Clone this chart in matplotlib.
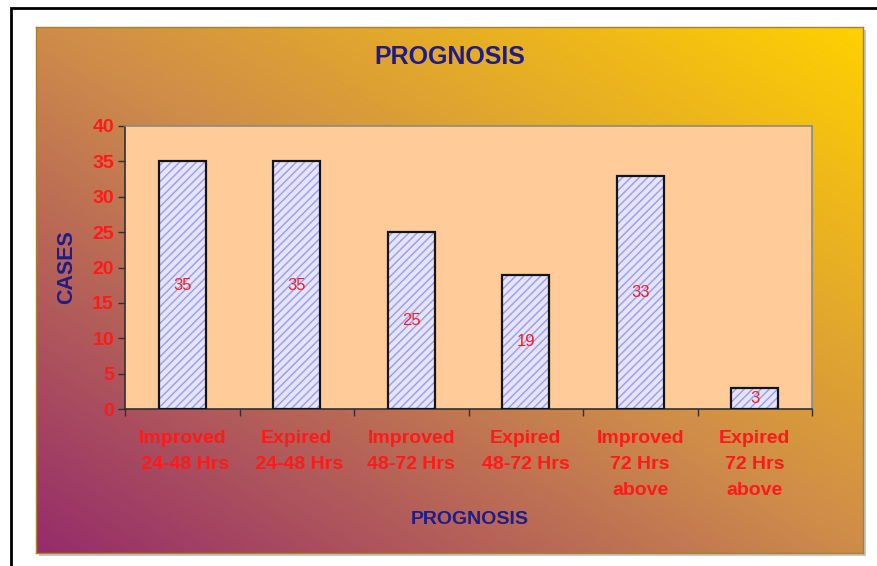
import numpy as np
import matplotlib
matplotlib.use("Agg")
import matplotlib.pyplot as plt
from matplotlib.colors import LinearSegmentedColormap
from matplotlib.patches import Rectangle

plt.rcParams["font.family"] = ["Liberation Sans", "DejaVu Sans"]

# Prognosis counts per outcome / admission window
categories = [
    "Improved\n 24-48 Hrs",
    "Expired\n 24-48 Hrs",
    "Improved\n48-72 Hrs",
    "Expired\n48-72 Hrs",
    "Improved\n72 Hrs\nabove",
    "Expired\n72 Hrs\nabove",
]
cases = [35, 35, 25, 19, 33, 3]
y_ticks = [0, 5, 10, 15, 20, 25, 30, 35, 40]

W, H = 877, 566
RED = "#FF1A1A"
NAVY = "#1C1C8A"


def fig_box(x0, y0, x1, y1):
    # pixel box (top-left origin) -> figure fraction rect
    return [x0 / W, (H - y1) / H, (x1 - x0) / W, (y1 - y0) / H]


fig = plt.figure(figsize=(W / 100, H / 100), dpi=100, facecolor="white")

# outer frame
fig.patches.append(Rectangle((11 / W, -0.1), 1.2, (H - 8) / H + 0.1, transform=fig.transFigure,
                             fill=False, edgecolor="black", linewidth=2))

# chart area with diagonal gradient (purple bottom-left -> yellow top-right)
shadow = fig.add_axes(fig_box(39, 30, 866, 556))
shadow.set_facecolor("#c8c8c8")
shadow.set_xticks([])
shadow.set_yticks([])
for s in shadow.spines.values():
    s.set_visible(False)

bg = fig.add_axes(fig_box(36, 27, 863, 553))
gx, gy = np.meshgrid(np.linspace(0, 1, 400), np.linspace(0, 1, 300))
grad = (gx + gy) / 2
cmap = LinearSegmentedColormap.from_list(
    "chartbg", [(0.0, "#962C6A"), (0.5, "#CE8C4A"), (1.0, "#FFD000")])
bg.imshow(grad, cmap=cmap, aspect="auto", extent=[0, 1, 0, 1], origin="lower")
bg.set_xticks([])
bg.set_yticks([])
for s in bg.spines.values():
    s.set_edgecolor("#a88030")
    s.set_linewidth(1)

bg.text(0.5, 1 - (57 - 27) / 526, "PROGNOSIS", transform=bg.transAxes, ha="center", va="center",
        fontsize=18, fontweight="bold", color=NAVY)

# plot area
ax = fig.add_axes(fig_box(125, 126, 812, 409))
ax.set_facecolor("#FFCC99")
x = np.arange(len(categories))
ax.bar(x, cases, width=0.41, color="#E4E4FF", hatch="////", edgecolor="#9A9AEE", linewidth=0, zorder=2)
ax.bar(x, cases, width=0.41, color="none", edgecolor="#151515", linewidth=1.6, zorder=3)

for xi, v in zip(x, cases):
    ax.text(xi, v / 2, str(v), ha="center", va="center", fontsize=12, color=RED, zorder=4)

ax.set_xlim(-0.5, len(categories) - 0.5)
ax.set_ylim(0, 40)
ax.set_yticks(y_ticks)
ax.set_yticklabels([str(t) for t in y_ticks], fontsize=14, fontweight="bold", color=RED)
ax.set_xticks(np.arange(len(categories) + 1) - 0.5)
ax.set_xticklabels([])
ax.set_xticks(x, minor=True)
ax.set_xticklabels(categories, minor=True, fontsize=14, fontweight="bold", color=RED, linespacing=1.68)
ax.tick_params(axis="x", which="minor", length=0, pad=15)
ax.tick_params(axis="x", which="major", length=5, width=1, color="#303030", direction="out")
ax.tick_params(axis="y", length=5, width=1, color="#303030", pad=3)

ax.spines["left"].set_color("#303030")
ax.spines["bottom"].set_color("#303030")
ax.spines["top"].set_color("#8a8a8a")
ax.spines["right"].set_color("#8a8a8a")
for s in ax.spines.values():
    s.set_linewidth(1.2)

ax.set_ylabel("CASES", fontsize=15.5, fontweight="bold", color=NAVY)
ax.yaxis.set_label_coords((77 - 125) / 687, 0.5)

fig.text(470 / W, 1 - 520 / H, "PROGNOSIS", ha="center", va="center",
         fontsize=14, fontweight="bold", color=NAVY)

fig.savefig("out.png", dpi=100, facecolor="white")
